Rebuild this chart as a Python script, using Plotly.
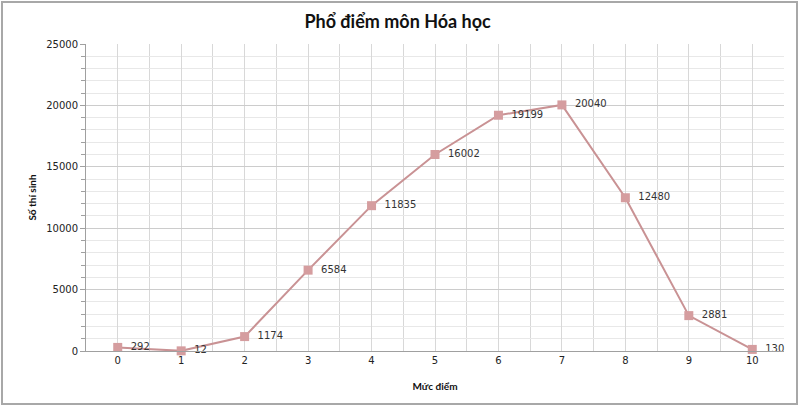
import plotly.graph_objects as go

scores = [0, 1, 2, 3, 4, 5, 6, 7, 8, 9, 10]
counts = [292, 12, 1174, 6584, 11835, 16002, 19199, 20040, 12480, 2881, 130]
x_tick_labels = [str(s) for s in scores]
y_tick_vals = [0, 5000, 10000, 15000, 20000, 25000]
y_tick_labels = [str(v) for v in y_tick_vals]

W, H = 800, 407
L, R, T, B = 86, 16, 44, 56
pw, ph = W - L - R, H - T - B

fig = go.Figure()
fig.add_trace(go.Scatter(
    x=scores, y=counts,
    mode="lines+markers+text",
    line=dict(color="#C99294", width=2),
    marker=dict(symbol="square", size=9, color="#D59D9F"),
    text=["  " + str(c) for c in counts],
    textposition="middle right",
    textfont=dict(family="DejaVu Sans", size=10, color="#333333"),
    cliponaxis=False,
    hoverinfo="x+y",
))

fig.update_layout(
    width=W, height=H,
    margin=dict(l=L, r=R, t=T, b=B, autoexpand=False),
    paper_bgcolor="white", plot_bgcolor="white",
    showlegend=False,
    title=dict(text="<b>Phổ điểm môn Hóa học</b>", x=0.497, xanchor="center",
               y=1 - 22 / H, yanchor="middle",
               font=dict(family="Lato", size=18, color="#111111")),
    xaxis=dict(
        range=[-0.5, 10.5], tickvals=scores, ticktext=x_tick_labels,
        showgrid=True, gridcolor="#D8D8D8", gridwidth=1,
        minor=dict(tick0=-0.5, dtick=1, showgrid=True, gridcolor="#D8D8D8"),
        zeroline=False, showline=True, linecolor="#A0A0A0", linewidth=1,
        ticks="", tickfont=dict(family="DejaVu Sans", size=10, color="#222222"),
        title=dict(text="<b>Mức điểm</b>", font=dict(family="Lato", size=10, color="#111111"), standoff=17),
        automargin=False, fixedrange=True,
    ),
    yaxis=dict(
        range=[0, 25000], tickvals=y_tick_vals, ticktext=y_tick_labels,
        showgrid=True, gridcolor="#CCCCCC", gridwidth=1,
        minor=dict(dtick=1000, showgrid=True, gridcolor="#E8E8E8", ticks="outside", ticklen=4, tickcolor="#A0A0A0"),
        zeroline=False, showline=True, linecolor="#A0A0A0", linewidth=1,
        ticks="outside", ticklen=5, tickcolor="#A0A0A0",
        tickfont=dict(family="DejaVu Sans", size=10, color="#222222"),
        title=dict(text="<b>Số thí sinh</b>", font=dict(family="Lato", size=10, color="#111111"), standoff=7),
        automargin=False, fixedrange=True,
    ),
    shapes=[dict(
        type="rect", xref="paper", yref="paper",
        x0=(2 - L) / pw, x1=(W - 3 - L) / pw,
        y0=(H - B - (H - 3)) / ph, y1=(H - B - 2) / ph,
        line=dict(color="#A8A8A8", width=2), fillcolor="rgba(0,0,0,0)", layer="above",
    )],
)

fig.write_html(
    "out.html",
    config={"displayModeBar": False},
    post_script="document.body.style.margin='0';document.body.style.overflow='hidden';",
)
